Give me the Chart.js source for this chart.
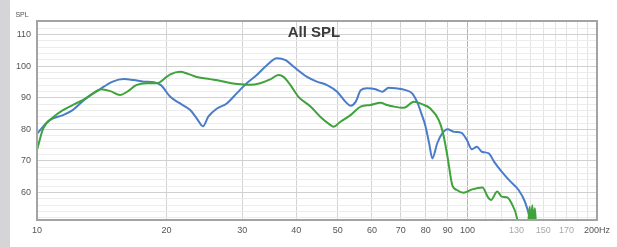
<!DOCTYPE html>
<html>
<head>
<meta charset="utf-8">
<script src="https://cdn.jsdelivr.net/npm/chart.js@4.4.0/dist/chart.umd.min.js"></script>
<style>
  html, body { margin: 0; padding: 0; background: #fff; }
  canvas { display: block; }
</style>
</head>
<body>
<canvas id="splChart" width="617" height="247"></canvas>
<script>
// values (Hz, dB)
const blueFreq = [10, 10.7, 11.5, 12.1, 13.0, 14.0, 15.0, 15.9, 16.8, 17.7, 18.7, 19.4, 20.4, 21.5, 22.7, 23.5, 24.3, 25.0, 26.2, 27.6, 29.1, 30.7, 32.4, 34.2, 36.1, 37.8, 39.5, 42.4, 44.7, 47.2, 49.8, 52.1, 53.5, 55.0, 56.5, 58.4, 61.2, 63.4, 65.6, 68.1, 71.9, 74.4, 76.4, 78.4, 79.9, 81.5, 82.9, 85.1, 87.4, 89.9, 93.2, 96.9, 99.7, 102.4, 105.2, 108.0, 112.1, 115.4, 120.1, 124.8, 131.5, 136.0, 139.6, 141];
const blueSpl = [78.6, 82.9, 84.5, 86.1, 89.8, 92.7, 95.1, 95.9, 95.6, 95.1, 94.9, 94.0, 90.3, 88.2, 86.1, 83.5, 81.0, 84.0, 86.6, 88.2, 91.4, 94.6, 97.2, 100.3, 102.5, 101.9, 99.8, 96.6, 95.1, 94.0, 91.9, 88.7, 87.5, 88.7, 92.4, 93.0, 92.7, 91.9, 93.2, 93.0, 92.4, 91.4, 88.7, 84.5, 81.0, 75.5, 70.8, 75.6, 78.7, 80.0, 79.2, 78.9, 76.6, 73.7, 74.5, 72.9, 72.4, 69.7, 66.6, 64.0, 60.8, 57.1, 51.8, 48];

const greenFreq = [10, 10.34, 10.9, 11.5, 12.1, 12.8, 13.5, 14.1, 14.8, 15.6, 16.2, 17.0, 18.0, 19.0, 20.0, 20.4, 21.5, 22.3, 23.5, 25.2, 26.6, 28.1, 29.7, 31.3, 33.0, 34.8, 36.4, 37.4, 38.8, 40.5, 43.2, 45.5, 48.0, 48.8, 50.7, 53.5, 56.5, 59.5, 62.8, 65.1, 67.4, 71.2, 75.1, 78.4, 82.0, 85.8, 87.8, 89.9, 92.2, 94.5, 98.0, 102.6, 108.4, 111.4, 113.4, 117.3, 120.1, 123.6, 126.6, 130.4, 131.5, 138, 139.5, 140.5, 141.5, 142.5, 143.5, 144.5];
const greenSpl = [73.5, 80.3, 83.8, 86.1, 87.7, 89.3, 91.4, 92.7, 92.1, 90.9, 91.9, 94.0, 94.6, 94.6, 96.6, 97.4, 98.2, 97.7, 96.6, 95.9, 95.4, 94.7, 94.3, 94.1, 94.6, 95.8, 97.2, 96.6, 94.0, 90.3, 87.2, 84.0, 81.4, 80.8, 82.4, 84.5, 87.2, 87.7, 88.4, 87.7, 87.2, 86.8, 88.7, 88.0, 86.6, 82.9, 78.7, 71.3, 62.4, 60.8, 59.9, 61.0, 61.6, 58.7, 57.6, 60.3, 58.7, 58.5, 56.6, 51.8, 48, 48, 55.5, 50, 56, 50.5, 55, 48];

const xTicks = [10, 20, 30, 40, 50, 60, 70, 80, 90, 100, 110, 120, 130, 140, 150, 160, 170, 180, 190, 200];
const xLabels = {10: '10', 20: '20', 30: '30', 40: '40', 50: '50', 60: '60', 70: '70', 80: '80', 90: '90', 100: '100', 130: '130', 150: '150', 170: '170', 200: '200Hz'};
const yLabels = [60, 70, 80, 90, 100, 110];

const toPoints = (fs, vs) => fs.map((f, i) => ({ x: f, y: vs[i] }));

// gray strip, title, SPL caption and frame
const decor = {
  id: 'decor',
  beforeDraw(chart) {
    const c = chart.ctx;
    c.save();
    c.fillStyle = '#d5d5d8';
    c.fillRect(0, 0, 10, chart.height);
    c.restore();
  },
  afterDraw(chart) {
    const c = chart.ctx;
    const a = chart.chartArea;
    c.save();
    c.strokeStyle = '#a3a3a3';
    c.lineWidth = 2;
    c.strokeRect(a.left, a.top, a.right - a.left, a.bottom - a.top);
    c.fillStyle = '#3c3c3c';
    c.font = 'bold 15px "Liberation Sans", Arial, sans-serif';
    c.textAlign = 'center';
    c.textBaseline = 'middle';
    c.fillText('All SPL', 314, 33);
    c.fillStyle = '#555';
    c.font = '7px "Liberation Sans", Arial, sans-serif';
    c.fillText('SPL', 22, 15);
    c.restore();
  }
};

const ctx = document.getElementById('splChart').getContext('2d');
const splChart = new Chart(ctx, {
  type: 'line',
  data: {
    datasets: [{
      label: 'Green',
      data: toPoints(greenFreq, greenSpl),
      borderColor: '#3fa23a',
      borderWidth: 2,
      pointRadius: 0,
      cubicInterpolationMode: 'monotone',
      fill: false
    }, {
      label: 'Blue',
      data: toPoints(blueFreq, blueSpl),
      borderColor: '#4a7dc9',
      borderWidth: 2,
      pointRadius: 0,
      cubicInterpolationMode: 'monotone',
      fill: false
    }]
  },
  options: {
    responsive: false,
    animation: false,
    layout: { padding: { left: 10, right: 20, top: 21, bottom: 0 } },
    plugins: { legend: { display: false }, tooltip: { enabled: false } },
    scales: {
      x: {
        type: 'logarithmic',
        min: 10,
        max: 200,
        afterBuildTicks: s => { s.ticks = xTicks.map(v => ({ value: v })); },
        afterFit: s => { s.height = 27; },
        border: { display: false },
        grid: {
          drawTicks: false,
          color: c => {
            const v = c.tick && c.tick.value;
            if (v === 100) return '#b4b4b4';
            return v > 100 ? '#e4e4e4' : '#d2d2d2';
          },
          lineWidth: 1
        },
        ticks: {
          autoSkip: false,
          maxRotation: 0,
          padding: 5,
          font: { size: 9, family: '"Liberation Sans", Arial, sans-serif' },
          color: c => (c.tick.value === 130 || c.tick.value === 150 || c.tick.value === 170) ? '#a8a8a8' : '#555',
          callback: v => xLabels[v] || ''
        }
      },
      y: {
        min: 51.3,
        max: 114.3,
        afterBuildTicks: s => {
          const t = [];
          for (let v = 52; v <= 114; v += 2) t.push({ value: v });
          s.ticks = t;
        },
        afterFit: s => { s.width = 27; },
        border: { display: false },
        grid: {
          drawTicks: false,
          color: c => (c.tick && c.tick.value % 10 === 0) ? '#d0d0d0' : '#ececec',
          lineWidth: 1
        },
        ticks: {
          autoSkip: false,
          padding: 6,
          font: { size: 9, family: '"Liberation Sans", Arial, sans-serif' },
          color: '#555',
          callback: v => yLabels.includes(v) ? String(v) : ''
        }
      }
    }
  },
  plugins: [decor]
});
</script>
</body>
</html>
